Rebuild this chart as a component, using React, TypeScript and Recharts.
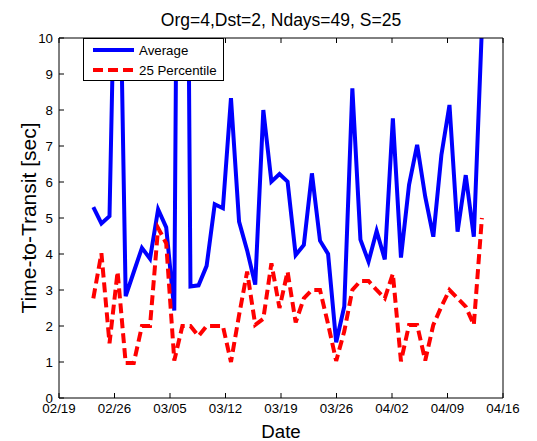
import React from 'react';
import { LineChart, Line, XAxis, YAxis, Legend, Customized } from 'recharts';

const title = 'Org=4,Dst=2, Ndays=49, S=25';
const xLabel = 'Date';
const yLabel = 'Time-to-Transit [sec]';
const seriesNames = ['Average', '25 Percentile'];

// days after 02/19
const tickDays = [0, 7, 14, 21, 28, 35, 42, 49, 56];
const tickLabels = ['02/19', '02/26', '03/05', '03/12', '03/19', '03/26', '04/02', '04/09', '04/16'];
const yTicks = [0, 1, 2, 3, 4, 5, 6, 7, 8, 9, 10];

const days = [
  4.33, 5.35, 6.37, 7.39, 8.41, 9.43, 10.46, 11.48, 12.5, 13.52,
  14.54, 15.56, 16.58, 17.6, 18.62, 19.64, 20.67, 21.69, 22.71, 23.73,
  24.75, 25.77, 26.79, 27.81, 28.83, 29.85, 30.88, 31.9, 32.92, 33.94,
  34.96, 35.98, 37.0, 38.02, 39.04, 40.06, 41.09, 42.11, 43.13, 44.15,
  45.17, 46.19, 47.21, 48.23, 49.25, 50.27, 51.3, 52.32, 53.34,
];

const average = [
  5.3, 4.85, 5.05, 16, 2.83, 3.5, 4.17, 3.87, 5.24, 4.74,
  2.43, 35, 3.1, 3.13, 3.67, 5.38, 5.27, 8.33, 4.9, 4.1,
  3.15, 8.0, 6.01, 6.22, 6.01, 3.97, 4.25, 6.24, 4.37, 4.0,
  1.55, 2.54, 8.6, 4.4, 3.79, 4.64, 3.85, 7.77, 3.9, 5.92,
  7.03, 5.59, 4.48, 6.75, 8.14, 4.62, 6.19, 4.48, 10.3,
];

const percentile25 = [
  2.77, 4.02, 1.52, 3.51, 0.97, 0.97, 2.0, 2.0, 4.72, 4.3,
  1.04, 2.0, 2.0, 1.72, 2.0, 2.0, 2.0, 1.0, 2.3, 3.51,
  2.03, 2.2, 3.74, 2.5, 3.51, 2.1, 2.77, 3.0, 3.0, 2.05,
  1.03, 1.85, 3.0, 3.25, 3.25, 3.0, 2.77, 3.45, 1.02, 2.03,
  2.03, 1.04, 2.03, 2.54, 3.0, 2.77, 2.54, 2.03, 5.0,
];

const data = days.map((d, i) => ({ day: d, avg: average[i], p25: percentile25[i] }));

const FONT = '"Liberation Sans", Arial, Helvetica, sans-serif';
const BLUE = '#0000ff';
const RED = '#ff0000';

const fmtX = (v: number) => {
  const k = tickDays.indexOf(v);
  return k >= 0 ? tickLabels[k] : '';
};

const Empty = () => <g />;

const LegendBox = () => (
  <div
    style={{
      width: 139,
      height: 41,
      border: '1px solid #000',
      background: '#fff',
      position: 'relative',
    }}
  >
    <svg width={139} height={41} style={{ position: 'absolute', left: 0, top: 0 }}>
      <line x1={9} x2={50} y1={11} y2={11} stroke={BLUE} strokeWidth={4} />
      <line x1={9} x2={50} y1={31} y2={31} stroke={RED} strokeWidth={4} strokeDasharray="10 5" />
      <text x={55} y={15.5} fontFamily={FONT} fontSize={13.3} fill="#000">
        {seriesNames[0]}
      </text>
      <text x={55} y={35.5} fontFamily={FONT} fontSize={13.3} fill="#000">
        {seriesNames[1]}
      </text>
    </svg>
  </div>
);

const Texts = () => (
  <g fontFamily={FONT} fill="#000">
    <text x={281} y={26} textAnchor="middle" fontSize={17.5}>
      {title}
    </text>
    <text x={281} y={438} textAnchor="middle" fontSize={18.7}>
      {xLabel}
    </text>
    <text
      x={28}
      y={218}
      textAnchor="middle"
      dominantBaseline="central"
      fontSize={21}
      transform="rotate(-90 28 218)"
    >
      {yLabel}
    </text>
  </g>
);

export default function App() {
  return (
    <div style={{ position: 'absolute', left: 0, top: 0, background: '#fff' }}>
      <LineChart
        width={537}
        height={441}
        data={data}
        margin={{ top: 37, right: 33, bottom: 0, left: 0 }}
        style={{ background: '#fff' }}
      >
        <XAxis
          xAxisId="bottom"
          dataKey="day"
          type="number"
          domain={[0, 56]}
          ticks={tickDays}
          tickFormatter={fmtX}
          height={43}
          tickSize={-5}
          tickMargin={11}
          axisLine={{ stroke: '#000', strokeWidth: 1 }}
          tickLine={{ stroke: '#000' }}
          tick={{ fill: '#000', fontSize: 13.3, fontFamily: FONT }}
          allowDataOverflow
          interval={0}
        />
        <XAxis
          xAxisId="top"
          orientation="top"
          dataKey="day"
          type="number"
          domain={[0, 56]}
          ticks={tickDays}
          height={1}
          tickSize={-5}
          axisLine={{ stroke: '#000', strokeWidth: 1 }}
          tickLine={{ stroke: '#000' }}
          tick={Empty}
          interval={0}
        />
        <YAxis
          yAxisId="left"
          type="number"
          domain={[0, 10]}
          ticks={yTicks}
          width={59}
          tickSize={-5}
          tickMargin={11}
          axisLine={{ stroke: '#000', strokeWidth: 1 }}
          tickLine={{ stroke: '#000' }}
          tick={{ fill: '#000', fontSize: 13.3, fontFamily: FONT }}
          allowDataOverflow
          interval={0}
        />
        <YAxis
          yAxisId="right"
          orientation="right"
          type="number"
          domain={[0, 10]}
          ticks={yTicks}
          width={1}
          tickSize={-5}
          axisLine={{ stroke: '#000', strokeWidth: 1 }}
          tickLine={{ stroke: '#000' }}
          tick={Empty}
          interval={0}
        />
        <Line
          xAxisId="bottom"
          yAxisId="left"
          type="linear"
          dataKey="avg"
          name={seriesNames[0]}
          stroke={BLUE}
          strokeWidth={4}
          dot={false}
          activeDot={false}
          isAnimationActive={false}
        />
        <Line
          xAxisId="bottom"
          yAxisId="left"
          type="linear"
          dataKey="p25"
          name={seriesNames[1]}
          stroke={RED}
          strokeWidth={4}
          strokeDasharray="10 5"
          dot={false}
          activeDot={false}
          isAnimationActive={false}
        />
        <Legend
          layout="horizontal"
          verticalAlign="middle"
          align="center"
          content={LegendBox}
          wrapperStyle={{ left: 83, top: 38, width: 'auto', height: 'auto' }}
        />
        <Customized component={Texts} />
      </LineChart>
    </div>
  );
}
